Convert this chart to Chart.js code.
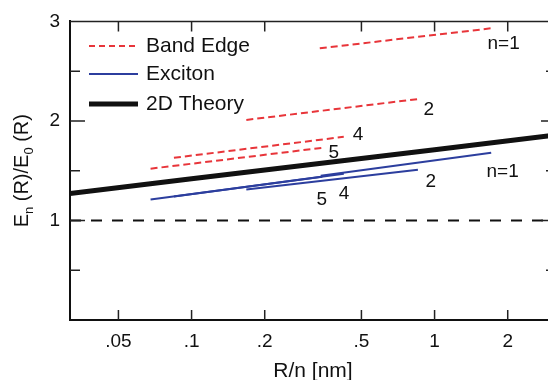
<!DOCTYPE html>
<html>
<head>
<meta charset="utf-8">
<script src="https://cdn.jsdelivr.net/npm/chart.js@4.4.1/dist/chart.umd.min.js"></script>
<style>
  html, body { margin: 0; padding: 0; background: #fff; overflow: hidden; }
  #contenedor { width: 560px; height: 380px; }
</style>
</head>
<body>
<div id="contenedor"><canvas id="grafico"></canvas></div>
<script>
// Ejes
const xLimites = [0.0316, 3.16];
const xTicks = [0.05, 0.1, 0.2, 0.5, 1, 2];
const xTickLabels = ['.05', '.1', '.2', '.5', '1', '2'];
const yTicks = [0, 0.5, 1, 1.5, 2, 2.5, 3];
const yTickLabels = ['', '', '1', '', '2', '', '3'];

// 2D Theory
const teoriaX = [0.0316, 0.1, 1, 3.16];
const teoriaY = [1.27, 1.42, 1.71, 1.86];

// Band Edge (n = 1, 2, 4, 5)
const bordeN1X = [0.337, 1.70];
const bordeN1Y = [2.73, 2.93];
const bordeN2X = [0.168, 0.854];
const bordeN2Y = [2.01, 2.22];
const bordeN4X = [0.0846, 0.423];
const bordeN4Y = [1.63, 1.84];
const bordeN5X = [0.0678, 0.345];
const bordeN5Y = [1.52, 1.73];

// Exciton (n = 1, 2, 4, 5)
const excitonN1X = [0.340, 1.71];
const excitonN1Y = [1.45, 1.68];
const excitonN2X = [0.168, 0.854];
const excitonN2Y = [1.31, 1.51];
const excitonN4X = [0.0846, 0.423];
const excitonN4Y = [1.24, 1.47];
const excitonN5X = [0.0678, 0.345];
const excitonN5Y = [1.21, 1.44];

// Referencia E = 1
const referenciaY = 1;

// Etiquetas de n junto a las curvas
const etiquetas = [
    { texto: 'n=1', x: 1.652, y: 2.72 },
    { texto: '2', x: 0.901, y: 2.06 },
    { texto: '4', x: 0.460, y: 1.81 },
    { texto: '5', x: 0.366, y: 1.63 },
    { texto: 'n=1', x: 1.636, y: 1.44 },
    { texto: '2', x: 0.918, y: 1.34 },
    { texto: '4', x: 0.403, y: 1.22 },
    { texto: '5', x: 0.327, y: 1.16 }
];

const ROJO = '#e8353a';
const AZUL = '#2c3e9e';
const NEGRO = '#111111';
const FUENTE = '"Liberation Sans", Arial, Helvetica, sans-serif';

function puntos(xs, ys) {
    return xs.map((x, i) => ({ x: x, y: ys[i] }));
}

function serieBorde(xs, ys) {
    return {
        data: puntos(xs, ys),
        borderColor: ROJO,
        borderWidth: 2,
        borderDash: [7, 4],
        pointRadius: 0,
        fill: false
    };
}

function serieExciton(xs, ys) {
    return {
        data: puntos(xs, ys),
        borderColor: AZUL,
        borderWidth: 2,
        pointRadius: 0,
        fill: false
    };
}

// Ticks hacia dentro en los cuatro lados + borde superior
const ticksInternos = {
    id: 'ticksInternos',
    afterDraw(chart) {
        const ctx = chart.ctx;
        const area = chart.chartArea;
        const xs = chart.scales.x;
        const ys = chart.scales.y;
        ctx.save();
        ctx.strokeStyle = '#222';
        ctx.lineWidth = 1.5;
        ctx.beginPath();
        yTicks.forEach(v => {
            if (v <= 0 || v >= 3) return;
            const py = ys.getPixelForValue(v);
            const largo = Number.isInteger(v) ? 15 : 10;
            ctx.moveTo(area.left, py);
            ctx.lineTo(area.left + largo, py);
            ctx.moveTo(area.right, py);
            ctx.lineTo(area.right - largo, py);
        });
        xTicks.forEach(v => {
            const px = xs.getPixelForValue(v);
            ctx.moveTo(px, area.bottom);
            ctx.lineTo(px, area.bottom - 10);
            ctx.moveTo(px, area.top);
            ctx.lineTo(px, area.top + 10);
        });
        ctx.stroke();
        ctx.beginPath();
        ctx.moveTo(area.left, area.top);
        ctx.lineTo(area.right, area.top);
        ctx.lineTo(area.right, area.bottom);
        ctx.stroke();
        ctx.restore();
    }
};

// Leyenda, etiquetas n y títulos de ejes
const textos = {
    id: 'textos',
    afterDraw(chart) {
        const ctx = chart.ctx;
        const area = chart.chartArea;
        const xs = chart.scales.x;
        const ys = chart.scales.y;
        ctx.save();

        // Leyenda
        const leyenda = [
            { texto: 'Band Edge', color: ROJO, ancho: 2, dash: [6, 4], y: 46 },
            { texto: 'Exciton', color: AZUL, ancho: 2, dash: [], y: 74 },
            { texto: '2D Theory', color: NEGRO, ancho: 5, dash: [], y: 104 }
        ];
        leyenda.forEach(item => {
            ctx.strokeStyle = item.color;
            ctx.lineWidth = item.ancho;
            ctx.setLineDash(item.dash);
            ctx.beginPath();
            ctx.moveTo(89, item.y);
            ctx.lineTo(138, item.y);
            ctx.stroke();
            ctx.setLineDash([]);
            ctx.fillStyle = NEGRO;
            ctx.font = '21px ' + FUENTE;
            ctx.textAlign = 'left';
            ctx.textBaseline = 'middle';
            ctx.fillText(item.texto, 146, item.y);
        });

        // Etiquetas n
        ctx.font = '19px ' + FUENTE;
        ctx.textBaseline = 'alphabetic';
        ctx.fillStyle = NEGRO;
        etiquetas.forEach(e => {
            ctx.fillText(e.texto, xs.getPixelForValue(e.x), ys.getPixelForValue(e.y));
        });

        // Título eje x
        ctx.textAlign = 'center';
        ctx.font = '21px ' + FUENTE;
        ctx.fillText('R/n [nm]', (area.left + area.right) / 2, 377);

        // Título eje y con subíndices
        const partes = [
            { t: 'E', sub: false },
            { t: 'n', sub: true },
            { t: ' (R)/E', sub: false },
            { t: '0', sub: true },
            { t: ' (R)', sub: false }
        ];
        const fNormal = '20px ' + FUENTE;
        const fSub = '13px ' + FUENTE;
        let total = 0;
        partes.forEach(p => {
            ctx.font = p.sub ? fSub : fNormal;
            p.w = ctx.measureText(p.t).width;
            total += p.w;
        });
        ctx.translate(28, (area.top + area.bottom) / 2);
        ctx.rotate(-Math.PI / 2);
        ctx.textAlign = 'left';
        let x = -total / 2;
        partes.forEach(p => {
            ctx.font = p.sub ? fSub : fNormal;
            ctx.fillText(p.t, x, p.sub ? 5 : 0);
            x += p.w;
        });
        ctx.restore();
    }
};

function crearGrafico() {
    const ctx = document.getElementById('grafico');

    new Chart(ctx, {
        type: 'line',
        data: {
            datasets: [
                {
                    data: puntos(xLimites, [referenciaY, referenciaY]),
                    borderColor: NEGRO,
                    borderWidth: 2,
                    borderDash: [11, 10],
                    pointRadius: 0
                },
                serieBorde(bordeN1X, bordeN1Y),
                serieBorde(bordeN2X, bordeN2Y),
                serieBorde(bordeN4X, bordeN4Y),
                serieBorde(bordeN5X, bordeN5Y),
                serieExciton(excitonN1X, excitonN1Y),
                serieExciton(excitonN2X, excitonN2Y),
                serieExciton(excitonN4X, excitonN4Y),
                serieExciton(excitonN5X, excitonN5Y),
                {
                    data: puntos(teoriaX, teoriaY),
                    borderColor: NEGRO,
                    borderWidth: 5,
                    pointRadius: 0
                }
            ]
        },
        options: {
            responsive: true,
            maintainAspectRatio: false,
            animation: false,
            layout: {
                padding: { left: 0, right: 4, top: 20, bottom: 0 }
            },
            plugins: {
                legend: { display: false },
                tooltip: { enabled: false }
            },
            scales: {
                x: {
                    type: 'logarithmic',
                    min: xLimites[0],
                    max: xLimites[1],
                    afterBuildTicks(scale) {
                        scale.ticks = xTicks.map(v => ({ value: v }));
                    },
                    afterFit(scale) {
                        scale.height = 60;
                    },
                    grid: { display: false, drawTicks: false },
                    border: { display: true, color: NEGRO, width: 2 },
                    ticks: {
                        autoSkip: false,
                        maxRotation: 0,
                        padding: 10,
                        color: NEGRO,
                        font: { family: FUENTE, size: 19 },
                        callback: (value, index) => xTickLabels[index]
                    }
                },
                y: {
                    min: 0,
                    max: 3,
                    afterBuildTicks(scale) {
                        scale.ticks = yTicks.map(v => ({ value: v }));
                    },
                    afterFit(scale) {
                        scale.width = 70;
                    },
                    grid: { display: false, drawTicks: false },
                    border: { display: true, color: NEGRO, width: 2 },
                    ticks: {
                        autoSkip: false,
                        padding: 10,
                        color: NEGRO,
                        font: { family: FUENTE, size: 19 },
                        callback: (value, index) => yTickLabels[index]
                    }
                }
            }
        },
        plugins: [ticksInternos, textos]
    });
}

document.addEventListener('DOMContentLoaded', crearGrafico);
</script>
</body>
</html>
